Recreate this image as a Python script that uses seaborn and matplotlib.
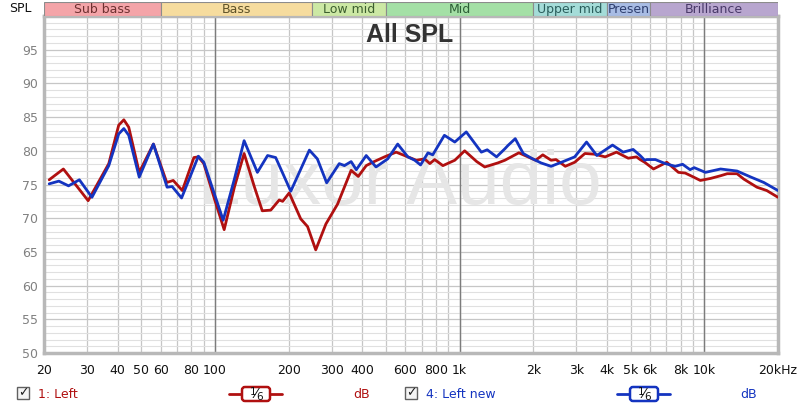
import matplotlib
matplotlib.use("Agg")
import matplotlib.pyplot as plt
import matplotlib.ticker as mticker
from matplotlib.patches import Rectangle, FancyBboxPatch
import pandas as pd
import seaborn as sns


# --- Data --------------------------------------------------------------------
left_freq = [21, 24, 30.3, 36.8, 40.4, 42.4, 44.4, 49, 56, 63.5, 67.5, 73.5,
             82, 85.5, 90, 99, 109, 120, 131.5, 145, 156, 169, 183, 189, 201,
             224, 239, 258, 284, 317, 337, 360, 385, 415, 441, 493, 550, 614,
             665, 719, 755, 790, 854, 955, 1048, 1174, 1266, 1432, 1530, 1745,
             1902, 2043, 2186, 2364, 2476, 2702, 2952, 3250, 3550, 3933, 4374,
             4886, 5280, 5464, 5703, 6196, 7023, 7836, 8350, 9035, 9630, 10600,
             11650, 12400, 13600, 14500, 16400, 18000, 20000]
left_db = [75.7, 77.3, 72.6, 78.1, 83.8, 84.6, 83.5, 76.8, 81.0, 75.3, 75.6,
           74.1, 79.0, 79.1, 78.1, 73.1, 68.3, 74.6, 79.6, 74.6, 71.1, 71.2,
           72.7, 72.5, 73.75, 69.9, 68.75, 65.3, 69.15, 72.1, 74.5, 77.1, 76.2,
           77.8, 78.3, 79.1, 79.8, 79.1, 78.6, 78.8, 78.1, 78.7, 77.8, 78.6,
           80.0, 78.4, 77.6, 78.2, 78.6, 79.7, 79.1, 78.6, 79.4, 78.6, 78.7,
           77.7, 78.3, 79.6, 79.5, 79.1, 79.8, 78.9, 79.1, 78.7, 78.3, 77.3,
           78.3, 76.8, 76.7, 76.1, 75.6, 75.9, 76.3, 76.6, 76.6, 75.8, 74.6,
           74.1, 73.1]

new_freq = [21, 23, 25.2, 27.9, 31.4, 36.8, 40.4, 42.4, 44.4, 49, 56, 63.7,
            66.8, 73, 85.5, 90, 99, 108, 120, 131.5, 149, 164, 177, 204, 243,
            262, 286, 322, 338, 360, 378, 415, 455, 508, 558, 614, 655, 692,
            742, 776, 866, 955, 1064, 1226, 1296, 1415, 1530, 1576, 1687, 1819,
            1965, 2150, 2364, 2606, 2952, 3300, 3636, 4214, 4656, 5117, 5464,
            5703, 5820, 6307, 6930, 7600, 8150, 8740, 9090, 10100, 11650,
            13600, 15500, 17500, 20000]
new_db = [75.1, 75.5, 74.8, 75.7, 73.1, 77.8, 82.5, 83.3, 82.3, 76.1, 81.0,
          74.6, 74.7, 73.0, 79.2, 78.3, 73.8, 69.7, 75.8, 81.5, 76.8, 79.3,
          79.0, 74.0, 80.1, 78.8, 75.25, 78.1, 77.8, 78.4, 77.2, 79.3, 77.6,
          78.8, 81.0, 79.1, 78.6, 77.9, 79.7, 79.4, 82.3, 81.3, 82.8, 79.8,
          80.15, 79.1, 80.3, 80.8, 81.8, 79.6, 78.9, 78.2, 77.7, 78.3, 79.1,
          81.3, 79.3, 80.85, 79.8, 80.2, 79.3, 78.6, 78.7, 78.7, 78.1, 77.7,
          78.0, 77.2, 77.5, 76.8, 77.3, 77.0, 76.1, 75.3, 74.1]

band_names = ["Sub bass", "Bass", "Low mid", "Mid", "Upper mid", "Presen", "Brilliance"]
band_edges = [20, 60, 250, 500, 2000, 4000, 6000, 20000]
band_fill = ["#f4a4a8", "#f6dc9e", "#cce8a4", "#a4e0a6", "#a4dcd8", "#a8bce4", "#b8a6cf"]
band_text = ["#6e3030", "#5e5228", "#3c5e2e", "#2c5e36", "#2a5e5c", "#2e3e6e", "#483868"]

x_ticks = [20, 30, 40, 50, 60, 80, 100, 200, 300, 400, 600, 800, 1000, 2000,
           3000, 4000, 5000, 6000, 8000, 10000, 20000]
x_labels = ["20", "30", "40", "50", "60", "80", "100", "200", "300", "400",
            "600", "800", "1k", "2k", "3k", "4k", "5k", "6k", "8k", "10k", "20kHz"]
y_ticks = [50, 55, 60, 65, 70, 75, 80, 85, 90, 95]

RED = "#b01010"
BLUE = "#1434c0"

df = pd.concat([
    pd.DataFrame({"freq": left_freq, "db": left_db, "trace": "1: Left"}),
    pd.DataFrame({"freq": new_freq, "db": new_db, "trace": "4: Left new"}),
], ignore_index=True)


# --- Figure ------------------------------------------------------------------
sns.set_style("white")
plt.rcParams["font.family"] = ["DejaVu Sans"]

W, H = 800, 409
fig = plt.figure(figsize=(W / 100, H / 100), dpi=100)


def px_box(x0, y0, x1, y1):
    return [x0 / W, 1 - y1 / H, (x1 - x0) / W, (y1 - y0) / H]


ax = fig.add_axes(px_box(44, 16, 778, 353))
ax.set_xscale("log")
ax.set_xlim(20, 20000)
ax.set_ylim(50, 100)

# grid
ax.set_axisbelow(True)
ax.xaxis.set_major_locator(mticker.FixedLocator(x_ticks))
ax.xaxis.set_major_formatter(mticker.FixedFormatter(x_labels))
ax.xaxis.set_minor_locator(mticker.LogLocator(base=10, subs=range(2, 10)))
ax.xaxis.set_minor_formatter(mticker.NullFormatter())
ax.yaxis.set_major_locator(mticker.FixedLocator(y_ticks))
ax.yaxis.set_minor_locator(mticker.MultipleLocator(1))
ax.grid(which="major", axis="x", color="#c6c6c6", linewidth=0.9)
ax.grid(which="minor", axis="x", color="#c6c6c6", linewidth=0.9)
ax.grid(which="major", axis="y", color="#c6c6c6", linewidth=0.9)
ax.grid(which="minor", axis="y", color="#e0e0e0", linewidth=0.8)
for dec in [100, 1000, 10000]:
    ax.axvline(dec, color="#7c7c7c", linewidth=1.0, zorder=0.8)

ax.tick_params(axis="both", which="both", length=0)
ax.tick_params(axis="x", pad=8, labelsize=9, labelcolor="#111111")
ax.tick_params(axis="y", pad=4, labelsize=9, labelcolor="#808080")
for s in ax.spines.values():
    s.set_color("#b8b8b8")
    s.set_linewidth(2.5)

# watermark and title
ax.text(0.485, 0.50, "Luxor Audio", transform=ax.transAxes, ha="center",
        va="center", fontsize=55, color="#e6e6e6", family="Liberation Sans",
        zorder=1)
ax.text(0.4986, 0.944, "All SPL", transform=ax.transAxes, ha="center",
        va="center", fontsize=18, fontweight="bold", color="#333333",
        family="Liberation Sans", zorder=4)

sns.lineplot(data=df, x="freq", y="db", hue="trace",
             palette={"1: Left": RED, "4: Left new": BLUE},
             sort=False, estimator=None, linewidth=2.0, legend=False,
             ax=ax, zorder=3)
for line in ax.get_lines()[-2:]:
    line.set_solid_joinstyle("round")
    line.set_solid_capstyle("round")
ax.set_xlabel("")
ax.set_ylabel("")

# --- Frequency band strip ----------------------------------------------------
bax = fig.add_axes(px_box(44, 2, 778, 16))
bax.set_xscale("log")
bax.set_xlim(20, 20000)
bax.set_ylim(0, 1)
bax.axis("off")
for name, lo, hi, fc, tc in zip(band_names, band_edges[:-1], band_edges[1:],
                                band_fill, band_text):
    bax.axvspan(lo, hi, facecolor=fc, edgecolor="#8c8c8c", linewidth=0.8)
    bax.text((lo * hi) ** 0.5, 0.45, name, ha="center", va="center",
             fontsize=9, color=tc)

fig.text(20 / W, 1 - 8 / H, "SPL", ha="center", va="center", fontsize=9,
         color="#111111")

# --- Bottom legend -----------------------------------------------------------
lax = fig.add_axes([0, 0, 1, 1], zorder=-1)
lax.set_xlim(0, W)
lax.set_ylim(H, 0)
lax.axis("off")

legend_items = [
    ("1: Left", RED, 17, 229, 353),
    ("4: Left new", BLUE, 405, 617, 740),
]
for label, col, cbx, symx, dbx in legend_items:
    lax.add_patch(Rectangle((cbx, 387), 12, 12, facecolor="#f4f4f4",
                            edgecolor="#606060", linewidth=1.0))
    lax.text(cbx + 6, 393, "\u2713", ha="center", va="center", fontsize=9,
             color="#202020", fontweight="bold")
    lax.text(cbx + 21, 394, label, ha="left", va="center", fontsize=9,
             color=col)
    lax.plot([symx, symx + 53], [394, 394], color=col, linewidth=2)
    lax.add_patch(FancyBboxPatch((symx + 13, 387), 28, 14,
                                 boxstyle="round,pad=0,rounding_size=3",
                                 facecolor="white", edgecolor=col,
                                 linewidth=1.8, zorder=3))
    lax.text(symx + 24, 392, "1", ha="center", va="center",
             fontsize=7.5, color="#111111", zorder=4)
    lax.text(symx + 27, 394, "\u2044", ha="center", va="center",
             fontsize=10, color="#111111", zorder=4)
    lax.text(symx + 30.5, 396.5, "6", ha="center", va="center",
             fontsize=7.5, color="#111111", zorder=4)
    lax.text(dbx, 394, "dB", ha="left", va="center", fontsize=9, color=col)

fig.savefig("out.png", dpi=100)
plt.close(fig)
